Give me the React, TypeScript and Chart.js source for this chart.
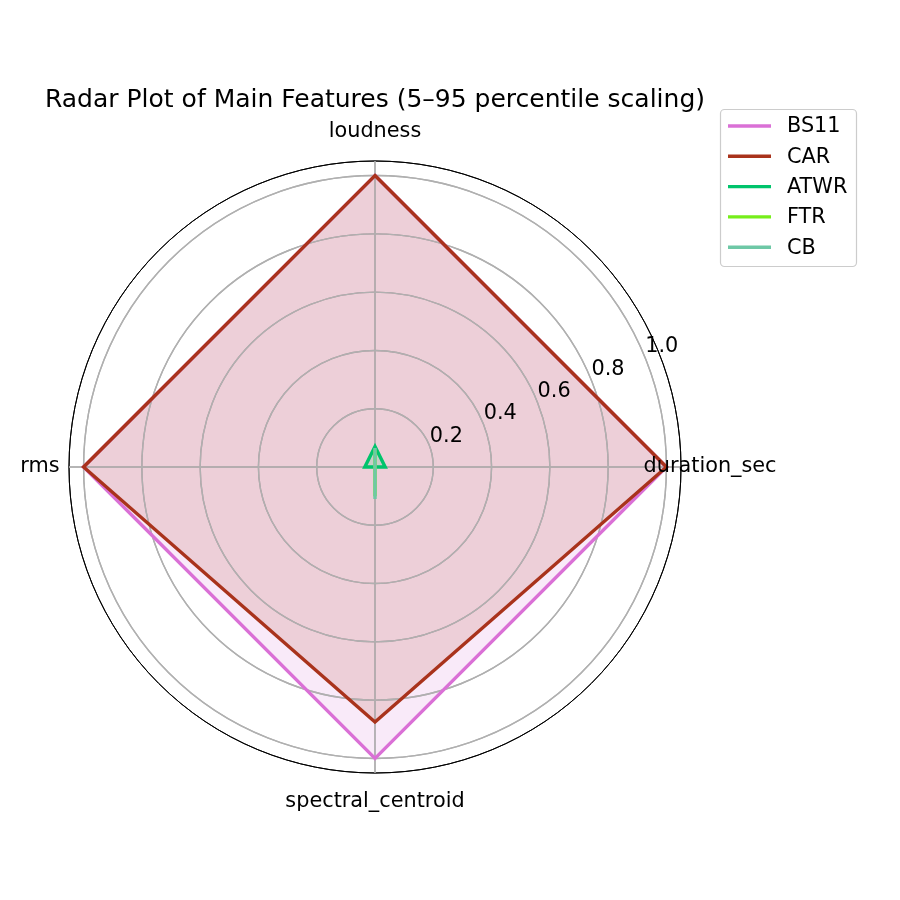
import Chart from 'chart.js/auto'
import { useEffect, useRef } from 'react'

// axes go clockwise from the top in Chart.js
const features = ['loudness', 'duration_sec', 'spectral_centroid', 'rms']
const seriesNames = ['BS11', 'CAR', 'ATWR', 'FTR', 'CB']
const seriesColors = ['#da70d6', '#a9331c', '#00c46c', '#76ee1a', '#6ec8a6']

const bs11 = [1.0, 1.0, 1.0, 1.0]
const car = [1.0, 1.0, 0.875, 1.0]
const atwr = [0.07, 0.035, 0.0, 0.035]
const ftr = [0.06, 0.0, 0.1, 0.0]
const cb = [0.065, 0.0, 0.11, 0.0]

const rTicks = [0, 0.2, 0.4, 0.6, 0.8, 1.0]
const rMax = 1.05

const FONT = '"DejaVu Sans", sans-serif'

function hexA(hex: string, a: number) {
  const n = parseInt(hex.slice(1), 16)
  return `rgba(${(n >> 16) & 255}, ${(n >> 8) & 255}, ${n & 255}, ${a})`
}

// fills go under the grid, lines above it (like matplotlib)
const gridOverFill = {
  id: 'gridOverFill',
  beforeDatasetsDraw(chart: any) {
    chart.scales.r.drawGrid()
  },
}

const overlay = {
  id: 'overlay',
  afterDraw(chart: any) {
    const ctx = chart.ctx as CanvasRenderingContext2D
    const r = chart.scales.r
    ctx.save()
    ctx.fillStyle = '#000'

    // radial tick labels at 22.5 deg
    ctx.font = `20.8px ${FONT}`
    ctx.textAlign = 'left'
    ctx.textBaseline = 'bottom'
    const ang = (22.5 * Math.PI) / 180
    rTicks.slice(1).forEach((v) => {
      const d = r.getDistanceFromCenterForValue(v)
      ctx.fillText(v.toFixed(1), r.xCenter + d * Math.cos(ang) + 1, r.yCenter - d * Math.sin(ang) + 2)
    })

    // feature labels
    ctx.textAlign = 'center'
    ctx.textBaseline = 'middle'
    features.forEach((f, i) => {
      const p = r.getPointPositionForValue(i, rMax * 1.095)
      ctx.fillText(f, p.x, p.y)
    })

    // title
    ctx.font = `25px ${FONT}`
    ctx.fillText('Radar Plot of Main Features (5–95 percentile scaling)', r.xCenter, 100)

    // legend
    const lx = 720, ly = 109, lw = 136, lh = 157
    ctx.beginPath()
    ctx.roundRect(lx + 0.5, ly + 0.5, lw, lh, 4)
    ctx.fillStyle = 'rgba(255,255,255,0.8)'
    ctx.fill()
    ctx.strokeStyle = '#cccccc'
    ctx.lineWidth = 1.2
    ctx.stroke()
    ctx.font = `20.8px ${FONT}`
    ctx.textAlign = 'left'
    seriesNames.forEach((name, i) => {
      const y = ly + 17 + i * 30.3
      ctx.strokeStyle = seriesColors[i]
      ctx.lineWidth = 3.4
      ctx.beginPath()
      ctx.moveTo(728, y)
      ctx.lineTo(771, y)
      ctx.stroke()
      ctx.fillStyle = '#000'
      ctx.fillText(name, 787, y + 1)
    })
    ctx.restore()
  },
}

function App() {
  const ref = useRef<HTMLCanvasElement>(null)

  useEffect(() => {
    if (!ref.current) return
    const values = [bs11, car, atwr, ftr, cb]
    const chart = new Chart(ref.current, {
      type: 'radar',
      data: {
        labels: features,
        datasets: seriesNames.map((name, i) => ({
          label: name,
          data: values[i],
          borderColor: seriesColors[i],
          backgroundColor: hexA(seriesColors[i], 0.15),
          borderWidth: 3.4,
          fill: true,
          pointRadius: 0,
          order: seriesNames.length - i,
        })),
      },
      options: {
        animation: false,
        responsive: false,
        layout: { padding: { left: 69, right: 219, top: 161, bottom: 127 } },
        plugins: {
          legend: { display: false },
          title: { display: false },
          tooltip: { enabled: false },
          filler: { drawTime: 'beforeDatasetsDraw' },
        },
        scales: {
          r: {
            min: 0,
            max: rMax,
            afterBuildTicks: (scale: any) => {
              scale.ticks = rTicks.concat(rMax).map((v) => ({ value: v }))
            },
            ticks: { display: false },
            pointLabels: { display: false },
            angleLines: { color: '#b0b0b0', lineWidth: 1.4 },
            grid: {
              circular: true,
              color: (c: any) => (c.tick && c.tick.value >= rMax ? '#000000' : '#b0b0b0'),
              lineWidth: (c: any) => (c.tick && c.tick.value >= rMax ? 1 : 1.4),
            },
          },
        },
      },
      plugins: [gridOverFill, overlay],
    })
    return () => chart.destroy()
  }, [])

  return (
    <div style={{ position: 'fixed', left: 0, top: 0, width: 900, height: 900, background: '#fff' }}>
      <canvas ref={ref} width={900} height={900}></canvas>
    </div>
  )
}

export default App
